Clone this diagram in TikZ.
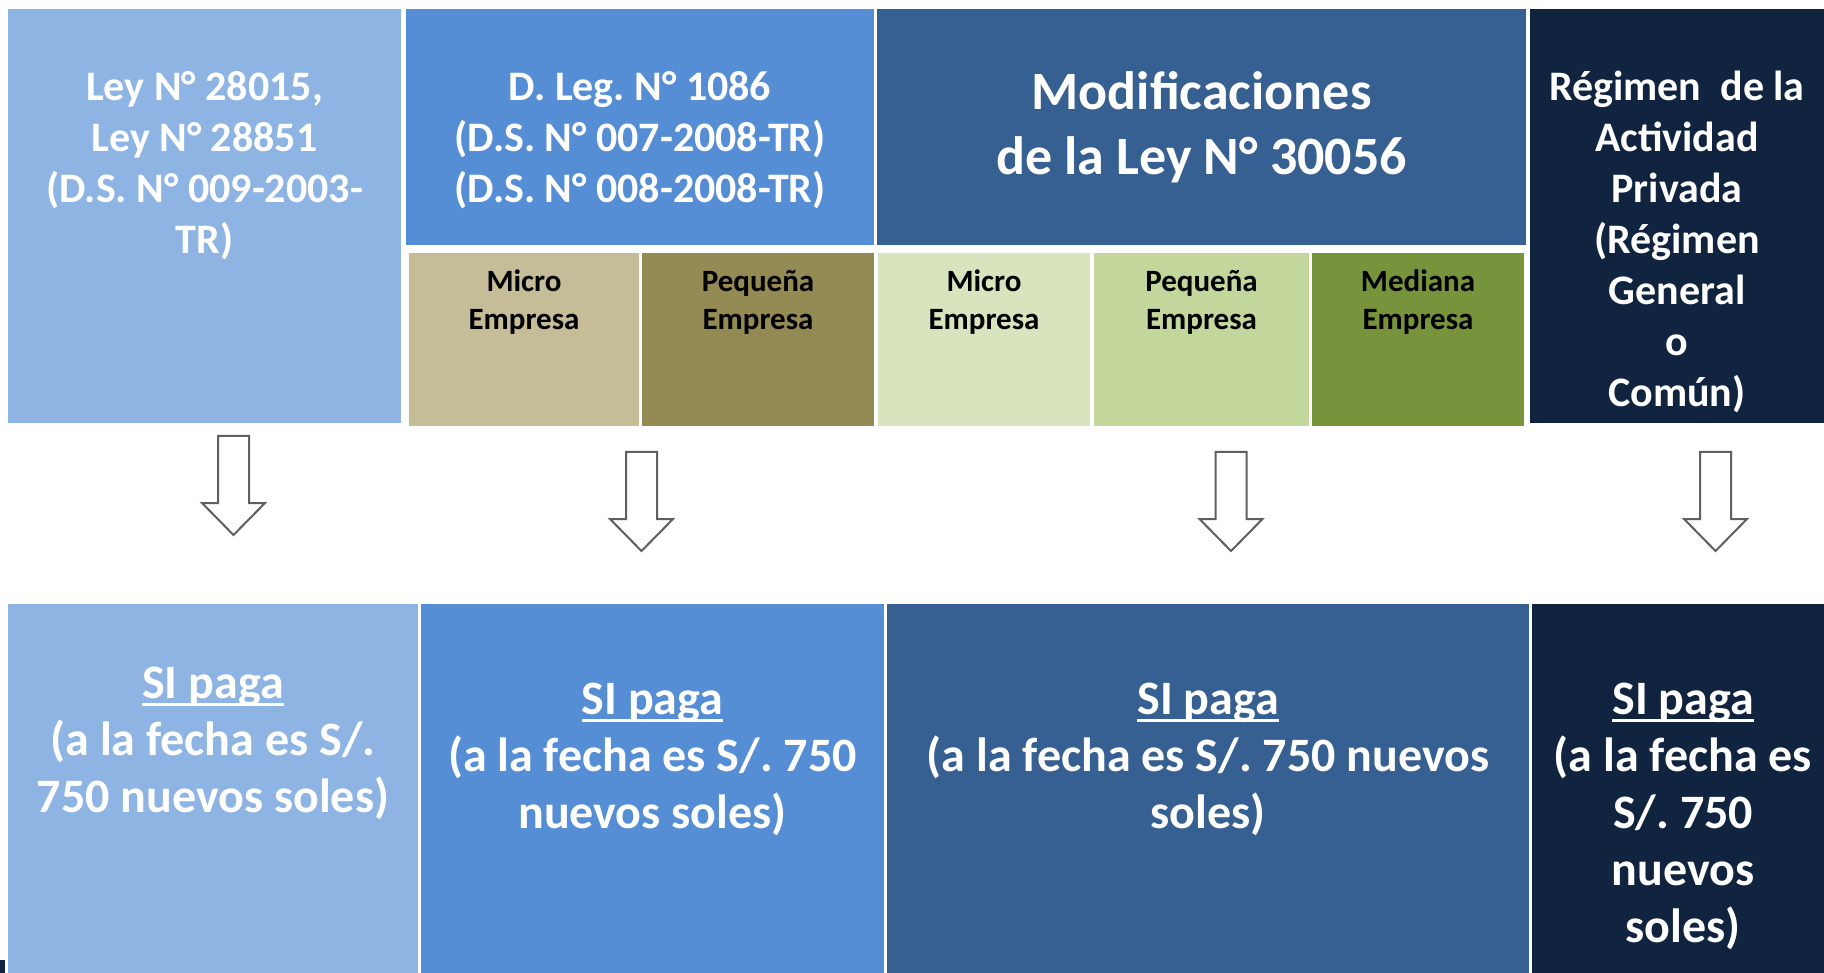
\documentclass[tikz,border=0pt]{standalone}
\usepackage{fontspec}
\setmainfont{Carlito}
\usepackage{tikz}
\frenchspacing
\definecolor{lightblue}{HTML}{8EB4E3}
\definecolor{midblue}{HTML}{558ED5}
\definecolor{steelblue}{HTML}{376092}
\definecolor{navyblue}{HTML}{11243F}
\definecolor{tan}{HTML}{C4BD97}
\definecolor{olive}{HTML}{948A54}
\definecolor{palegreen}{HTML}{D7E4BD}
\definecolor{lightgreen}{HTML}{C3D69B}
\definecolor{darkgreen}{HTML}{77933C}
\definecolor{arrowgray}{HTML}{5F5F5F}
\def\pagoarrow(#1,#2){\draw[line width=2pt, color=arrowgray, fill=white] ({#1-15.5},#2) -- ({#1+15.5},#2) -- ({#1+15.5},{#2+67}) -- ({#1+31.5},{#2+67}) -- (#1,{#2+99}) -- ({#1-31.5},{#2+67}) -- ({#1-15.5},{#2+67}) -- cycle;}
\def\subrayado#1{\setbox0\hbox{#1}\rlap{\rule[-0.17em]{\wd0}{0.06em}}\box0}

\begin{document}
\begin{tikzpicture}[x=1pt, y=-1pt,
	toptext/.style={inner sep=0, align=center, text=white, font=\fontsize{42}{51}\selectfont\bfseries},
	bigtext/.style={inner sep=0, align=center, text=white, font=\fontsize{54}{65}\selectfont\bfseries},
	subtext/.style={inner sep=0, align=center, text=black, font=\fontsize{31}{38}\selectfont\bfseries},
	pagotext/.style={inner sep=0, align=center, text=white, font=\fontsize{48}{57}\selectfont\bfseries}]
			%%%%% START %%%%%
			\useasboundingbox[fill=white] (0, 0) rectangle (1824, 973);
			
			\fill[lightblue] (8, 9) rectangle (401, 423);
			\fill[midblue] (406, 9) rectangle (874, 245);
			\fill[steelblue] (877, 9) rectangle (1526, 245);
			\fill[navyblue] (1530, 9) rectangle (1824, 423);
			
			\fill[tan] (409, 253) rectangle (639, 426);
			\fill[olive] (642, 253) rectangle (874, 426);
			\fill[palegreen] (878, 253) rectangle (1090, 426);
			\fill[lightgreen] (1094, 253) rectangle (1309, 426);
			\fill[darkgreen] (1312, 253) rectangle (1524, 426);
			
			\node[toptext] (ley) at (204.5, 166) {Ley N° 28015,\\ Ley N° 28851\\ (D.S. N° 009-2003-\\ TR)};
			\node[toptext] (dleg) at (640, 140.5) {D. Leg. N° 1086\\ (D.S. N° 007-2008-TR)\\ (D.S. N° 008-2008-TR)};
			\node[bigtext] (modif) at (1201.5, 127) {Modificaciones\\ de la Ley N° 30056};
			\node[toptext] (general) at (1677, 241.5) {Régimen~ de la\\ Actividad\\ Privada\\ (Régimen\\ General\\ o\\ Común)};
			
			\node[subtext] (micro1) at (524, 302) {Micro\\ Empresa};
			\node[subtext] (peq1) at (758, 302) {Pequeña\\ Empresa};
			\node[subtext] (micro2) at (984, 302) {Micro\\ Empresa};
			\node[subtext] (peq2) at (1201.5, 302) {Pequeña\\ Empresa};
			\node[subtext] (mediana) at (1418, 302) {Mediana\\ Empresa};
			
			\pagoarrow(233.5, 436)
			\pagoarrow(641.5, 452)
			\pagoarrow(1231, 452)
			\pagoarrow(1715.5, 452)
			
			\fill[lightblue] (8, 604) rectangle (418, 973);
			\fill[midblue] (421, 604) rectangle (884, 973);
			\fill[steelblue] (887, 604) rectangle (1529, 973);
			\fill[navyblue] (1532, 604) rectangle (1824, 973);
			\fill[navyblue] (0, 960) rectangle (5, 973);
			
			\node[pagotext] (pago1) at (213, 743) {\subrayado{SI paga}\\ (a la fecha es S/.\\ 750 nuevos soles)};
			\node[pagotext] (pago2) at (652.5, 759) {\subrayado{SI paga}\\ (a la fecha es S/. 750\\ nuevos soles)};
			\node[pagotext] (pago3) at (1208, 759) {\subrayado{SI paga}\\ (a la fecha es S/. 750 nuevos\\ soles)};
			\node[pagotext] (pago4) at (1683, 816) {\subrayado{SI paga}\\ (a la fecha es\\ S/. 750\\ nuevos\\ soles)};
			
			%%%%% END %%%%%
\end{tikzpicture}
\end{document}
